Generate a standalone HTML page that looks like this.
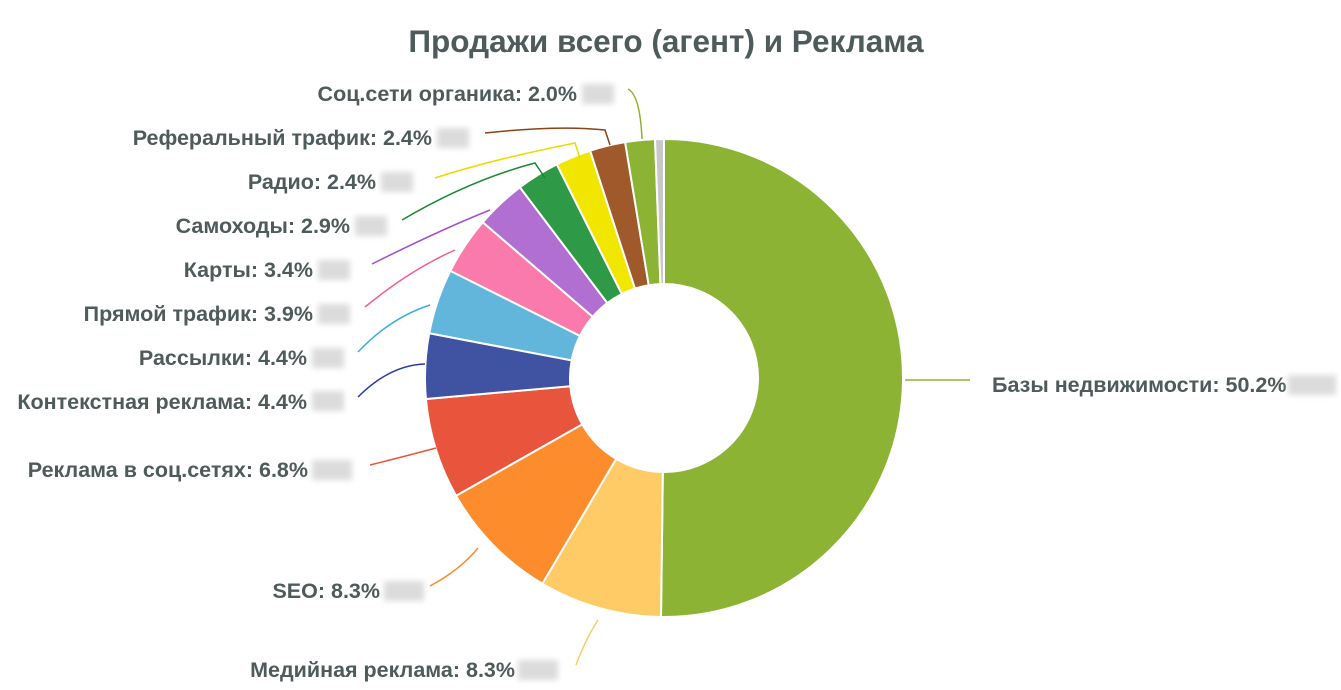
<!DOCTYPE html>
<html><head><meta charset="utf-8"><style>
html,body{margin:0;padding:0;background:#fff;width:1341px;height:690px;overflow:hidden}
svg text{font-family:"Liberation Sans",sans-serif;font-weight:bold;fill:#4f5a5a}
</style></head><body>
<svg id="s" width="1341" height="690" xmlns="http://www.w3.org/2000/svg">
<defs><filter id="b" x="-50%" y="-50%" width="200%" height="200%"><feGaussianBlur stdDeviation="3"/></filter></defs>
<text x="666" y="52" text-anchor="middle" font-size="31.5">Продажи всего (агент) и Реклама</text>
<g id="w"></g>
<g fill="none" stroke-width="1.5">
<path d="M905 380 L970 380" stroke="#8db334"/>
<path d="M576 665 Q585 640 598 620" stroke="#fecb66"/>
<path d="M430 586 Q460 570 478 548" stroke="#fd8c2d"/>
<path d="M370 465 Q410 455 436 448" stroke="#e8543c"/>
<path d="M358 397 Q390 365 425 364" stroke="#2b3d98"/>
<path d="M358 352 Q390 318 430 305" stroke="#3aaee0"/>
<path d="M365 307 Q410 270 455 250" stroke="#f45c9a"/>
<path d="M372 264 Q440 230 490 210" stroke="#a24fd0"/>
<path d="M402 220 Q470 180 535 163 L545 178" stroke="#1a8a30"/>
<path d="M435 178 Q490 160 575 143 L580 158" stroke="#e8dc00"/>
<path d="M485 133 Q560 125 605 130 L610 145" stroke="#8a4416"/>
<path d="M628 89 Q640 95 642 139" stroke="#8db334"/>
</g>
<g font-size="21.5" text-anchor="end">
<text x="992" y="392" text-anchor="start">Базы недвижимости: 50.2%</text>
<text x="515" y="677">Медийная реклама: 8.3%</text>
<text x="380" y="598">SEO: 8.3%</text>
<text x="308" y="477">Реклама в соц.сетях: 6.8%</text>
<text x="307" y="409">Контекстная реклама: 4.4%</text>
<text x="307" y="365">Рассылки: 4.4%</text>
<text x="313" y="321">Прямой трафик: 3.9%</text>
<text x="313" y="277">Карты: 3.4%</text>
<text x="350" y="233">Самоходы: 2.9%</text>
<text x="376" y="189">Радио: 2.4%</text>
<text x="432" y="145">Реферальный трафик: 2.4%</text>
<text x="577" y="101">Соц.сети органика: 2.0%</text>
</g>
<g fill="#dcdcdc" filter="url(#b)">
<rect x="1288" y="375" width="48" height="20"/>
<rect x="518" y="660" width="40" height="20"/>
<rect x="384" y="581" width="40" height="20"/>
<rect x="312" y="460" width="40" height="20"/>
<rect x="312" y="391" width="32" height="20"/>
<rect x="312" y="348" width="32" height="20"/>
<rect x="318" y="304" width="32" height="20"/>
<rect x="318" y="260" width="32" height="20"/>
<rect x="355" y="216" width="32" height="20"/>
<rect x="381" y="172" width="32" height="20"/>
<rect x="437" y="128" width="32" height="20"/>
<rect x="582" y="84" width="32" height="20"/>
</g>
</svg>
<script>
var data=[[50.2,"#8db334"],[8.3,"#fecb66"],[8.3,"#fd8c2d"],[6.8,"#e8543c"],[4.4,"#3f53a2"],[4.4,"#62b6dc"],[3.9,"#f97aab"],[3.4,"#b26fd2"],[2.9,"#2e9a48"],[2.4,"#f0e600"],[2.4,"#a0592a"],[2.0,"#8db334"],[0.6,"#c8c8c8"]];
var cx=664,cy=378,R=239,r=94,a=0,g=document.getElementById("w"),h="";
function p(rad,ang){var t=ang/100*2*Math.PI;return [cx+rad*Math.sin(t),cy-rad*Math.cos(t)];}
data.forEach(function(d){var a2=a+d[0];var l=d[0]>50?1:0;
var A=p(R,a),B=p(R,a2),C=p(r,a2),D=p(r,a);
h+='<path d="M'+A+' A'+R+' '+R+' 0 '+l+' 1 '+B+' L'+C+' A'+r+' '+r+' 0 '+l+' 0 '+D+'Z" fill="'+d[1]+'" stroke="#fff" stroke-width="2"/>';a=a2;});
g.innerHTML=h;
</script>
</body></html>
